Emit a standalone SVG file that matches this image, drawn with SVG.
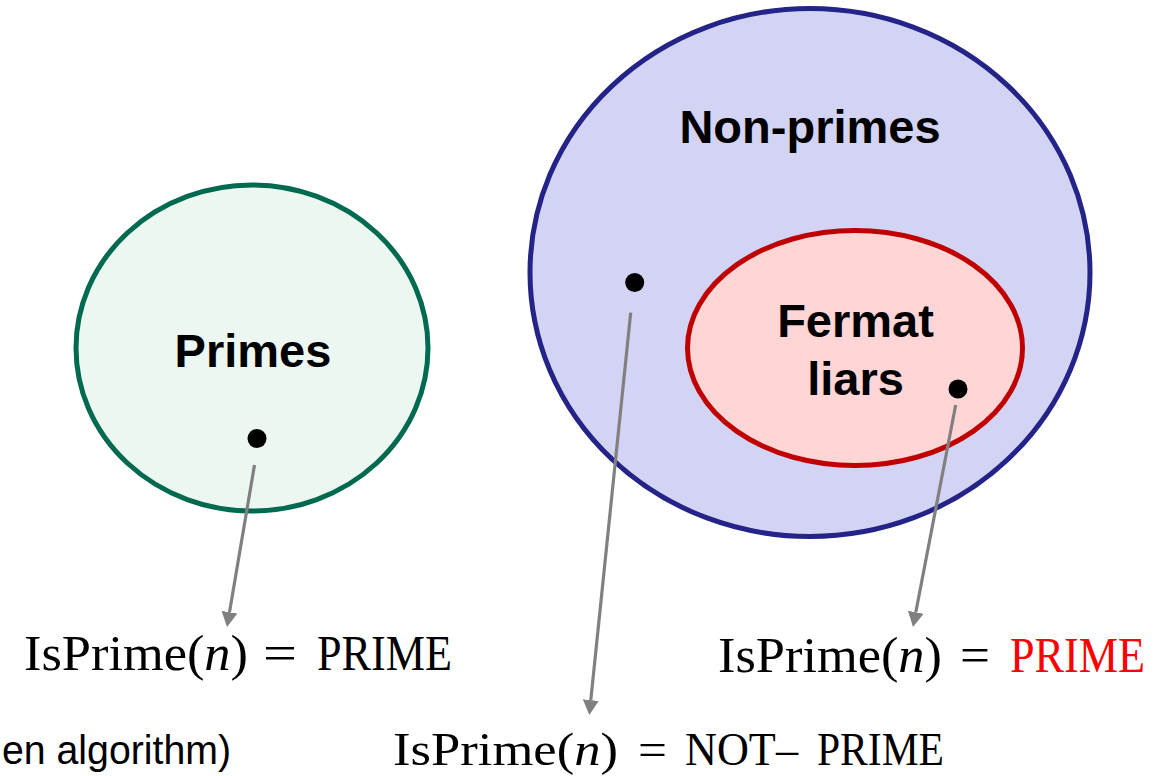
<svg xmlns="http://www.w3.org/2000/svg" width="1169" height="776" viewBox="0 0 1169 776">
<style>
.lbl{font-family:"Liberation Sans",Arial,sans-serif;font-weight:bold;font-size:47px;fill:#000;text-anchor:middle}
.math{font-family:"Liberation Serif","Times New Roman",serif;font-size:50px;fill:#000}
.math2{font-family:"Liberation Serif","Times New Roman",serif;font-size:46px;fill:#000}
.red{fill:#ff0000}
.dot{fill:#000}
.conn{stroke:#808080;stroke-width:3.2;fill:none;marker-end:url(#ah)}
</style>
<defs>
<marker id="ah" markerUnits="userSpaceOnUse" markerWidth="16" markerHeight="17" refX="0" refY="8" orient="auto" viewBox="0 0 16 16">
<path d="M0,0 L15,8 L0,16 z" fill="#808080"/>
</marker>
</defs>
<rect width="1169" height="776" fill="#ffffff"/>
<g id="primes">
<ellipse cx="252" cy="348" rx="176" ry="163" fill="#edf7f1" stroke="#006a50" stroke-width="5"/>
<text class="lbl" x="253" y="367">Primes</text>
<circle class="dot" cx="257" cy="438.5" r="9.5"/>
</g>
<g id="non-primes">
<ellipse cx="810" cy="272.5" rx="280" ry="264" fill="#d3d3f3" stroke="#232388" stroke-width="5"/>
<text class="lbl" x="810" y="143">Non-primes</text>
<circle class="dot" cx="634.7" cy="282.5" r="9.5"/>
</g>
<g id="fermat-liars">
<ellipse cx="855" cy="348" rx="167.5" ry="117.5" fill="#ffd5d6" stroke="#c00000" stroke-width="5"/>
<text class="lbl" x="855.5" y="337">Fermat</text>
<text class="lbl" x="855.5" y="395">liars</text>
<circle class="dot" cx="958" cy="389" r="9.5"/>
</g>
<g id="connectors">
<line class="conn" x1="254.5" y1="465" x2="229.5" y2="612.2"/>
<line class="conn" x1="630.7" y1="312.7" x2="590.8" y2="700.1"/>
<line class="conn" x1="955.7" y1="405" x2="915.8" y2="612.3"/>
</g>
<g id="result-prime-left">
<text class="math" x="24" y="670" textLength="224" lengthAdjust="spacingAndGlyphs">IsPrime(<tspan font-style="italic">n</tspan>)</text>
<text class="math" x="263" y="670" textLength="34" lengthAdjust="spacingAndGlyphs">=</text>
<text class="math" x="317" y="670" textLength="135" lengthAdjust="spacingAndGlyphs">PRIME</text>
</g>
<g id="result-not-prime">
<text class="math2" x="393" y="765" textLength="225" lengthAdjust="spacingAndGlyphs">IsPrime(<tspan font-style="italic">n</tspan>)</text>
<text class="math2" x="638" y="765" textLength="29" lengthAdjust="spacingAndGlyphs">=</text>
<text class="math2" x="685" y="765" textLength="113" lengthAdjust="spacingAndGlyphs">NOT–</text>
<text class="math2" x="817" y="765" textLength="127" lengthAdjust="spacingAndGlyphs">PRIME</text>
</g>
<g id="result-prime-right">
<text class="math" x="718" y="672" textLength="224" lengthAdjust="spacingAndGlyphs">IsPrime(<tspan font-style="italic">n</tspan>)</text>
<text class="math" x="960" y="672" textLength="30" lengthAdjust="spacingAndGlyphs">=</text>
<text class="math red" x="1010" y="672" textLength="135" lengthAdjust="spacingAndGlyphs">PRIME</text>
</g>
<g id="caption">
<text x="2" y="764" font-family="'Liberation Sans',Arial,sans-serif" font-size="40" fill="#000" textLength="229" lengthAdjust="spacingAndGlyphs">en algorithm)</text>
</g>
</svg>
